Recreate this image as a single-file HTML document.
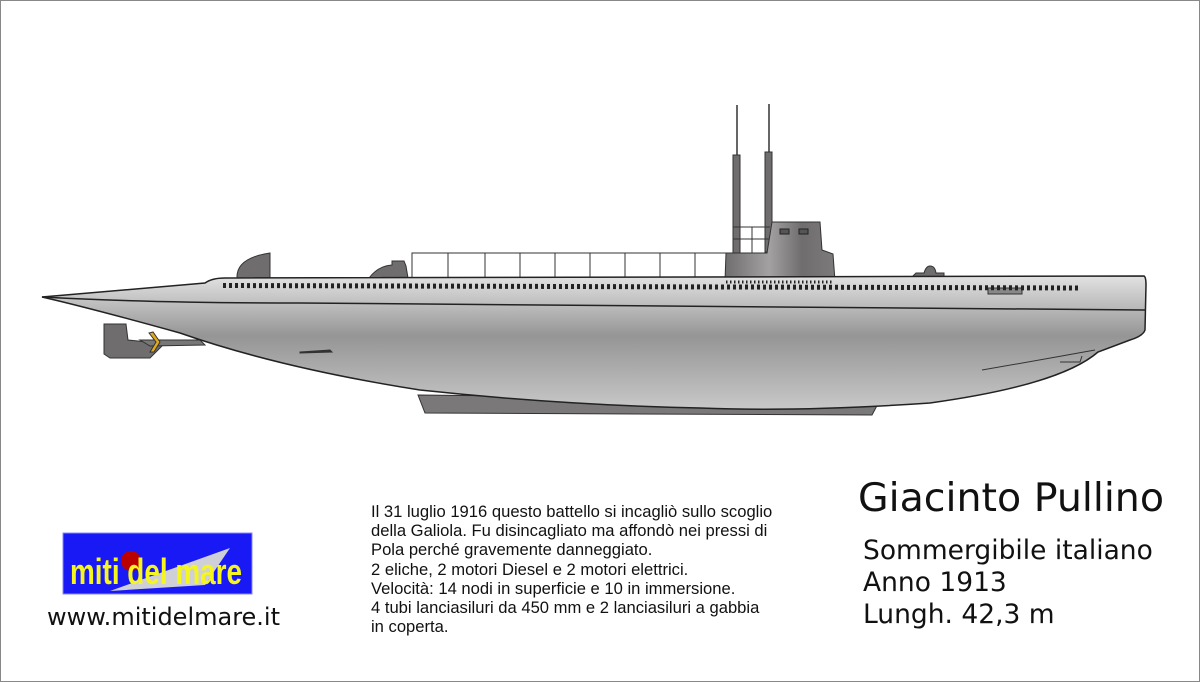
<!DOCTYPE html>
<html><head><meta charset="utf-8"><style>
body{margin:0;background:#fff;}
#c{position:relative;width:1198px;height:680px;border:1px solid #888;overflow:hidden;font-family:"DejaVu Sans","Liberation Sans",sans-serif;}
.t{position:absolute;white-space:nowrap;color:#111;}
</style></head><body><div id="c">
<svg width="1200" height="682" style="position:absolute;left:-1px;top:-1px">
<defs>
<linearGradient id="g" x1="0" y1="0" x2="0" y2="1">
<stop offset="0" stop-color="#e2e2e2"/><stop offset="0.45" stop-color="#959595"/><stop offset="1" stop-color="#c8c8c8"/></linearGradient>
<linearGradient id="ct" x1="0" y1="0" x2="1" y2="0">
<stop offset="0" stop-color="#6f6d6e"/><stop offset="0.4" stop-color="#a3a1a2"/><stop offset="0.7" stop-color="#6f6d6e"/><stop offset="1" stop-color="#7c7a7b"/></linearGradient>
</defs>
<path d="M418,395 L880,400 L872,415 L425,413 Z" fill="#7a7879" stroke="#333"/>
<path d="M104,324 L126,324 L128,340 L148,342 L160,340 L162,346 L150,358 L110,358 L104,354 Z" fill="#6f6d6e" stroke="#333"/>
<path d="M140,340 L200,340 L205,345 L150,346 Z" fill="#777" stroke="#333"/>
<path d="M149,333 L156,342 L150,352 L154,352 L160,342 L153,332 Z" fill="#e0a820" stroke="#333"/>
<path d="M237,278 Q236,258 270,253 L270,278 Z" fill="#6f6d6e" stroke="#333"/>
<path d="M369,278 Q378,266 392,265 L392,261 L404,261 L406,266 L408,278 Z" fill="#6f6d6e" stroke="#333"/>
<path d="M912,277 L916,273 L924,273 Q926,266 930,266 Q935,266 936,273 L944,273 L944,277 Z" fill="#6f6d6e" stroke="#333"/>
<rect x="412" y="253" width="314" height="25" fill="#fff" stroke="#333"/>
<g stroke="#333"><line x1="448" y1="253" x2="448" y2="278"/><line x1="485" y1="253" x2="485" y2="278"/><line x1="520" y1="253" x2="520" y2="278"/><line x1="555" y1="253" x2="555" y2="278"/><line x1="590" y1="253" x2="590" y2="278"/><line x1="625" y1="253" x2="625" y2="278"/><line x1="660" y1="253" x2="660" y2="278"/><line x1="695" y1="253" x2="695" y2="278"/></g>
<line x1="737" y1="105" x2="737" y2="160" stroke="#333" stroke-width="1.5"/>
<line x1="769" y1="104" x2="769" y2="155" stroke="#333" stroke-width="1.5"/>
<rect x="733" y="155" width="7" height="100" fill="#6f6d6e" stroke="#333"/>
<rect x="765" y="152" width="7" height="100" fill="#6f6d6e" stroke="#333"/>
<path d="M733,227 H770 M733,239 H770 M752,227 V253" stroke="#333" fill="none"/>
<path d="M725,281 L726,253 L767,253 L772,222 L820,222 L822,250 L833,254 L835,281 Z" fill="url(#ct)" stroke="#333"/>
<rect x="780" y="229" width="9" height="5" fill="#555" stroke="#222"/>
<rect x="799" y="229" width="9" height="5" fill="#555" stroke="#222"/>
<path d="M42,297 L205,283 Q212,278 225,278 L1144,276 Q1146,277 1146,285 L1145,330 Q1143,336 1130,340 L1098,352 Q1060,385 930,403 Q800,412 700,408 Q560,405 420,390 Q280,368 180,333 Q90,308 42,297 Z" fill="url(#g)" stroke="#222" stroke-width="1.5"/>
<path d="M42,297 Q150,303 300,303 L1145,310" fill="none" stroke="#222" stroke-width="1.5"/>
<path d="M300,352 L330,350 L332,352 L300,353 Z" fill="#333" stroke="#333"/>
<path d="M982,370 Q1040,360 1095,350 M1060,362 L1080,362 L1082,356" fill="none" stroke="#333"/>
<rect x="988" y="288" width="34" height="6" fill="#888" stroke="#333"/>
<line x1="223" y1="285.5" x2="1078" y2="288" stroke="#222" stroke-width="5" stroke-dasharray="3,3"/>
<line x1="726" y1="282" x2="833" y2="282" stroke="#222" stroke-width="3" stroke-dasharray="1.5,2.5"/>
<rect x="63" y="533" width="189" height="61" fill="#1919f5" stroke="#88f"/>
<path d="M110,591 L230,548 L205,585 Z" fill="#cfcfd8"/>
<circle cx="131" cy="561" r="10" fill="#b00"/>
<text x="70" y="584" font-family="Liberation Sans Narrow,Liberation Sans,sans-serif" font-weight="bold" font-size="36" fill="#f5f520" textLength="172" lengthAdjust="spacingAndGlyphs">miti del mare</text>
</svg>
<div class="t" style="left:46px;top:602px;font-size:24px;">www.mitidelmare.it</div>
<div class="t" style="left:857px;top:474px;font-size:39.5px;">Giacinto Pullino</div>
<div class="t" style="left:862px;top:534px;font-size:26.5px;line-height:32px;">Sommergibile italiano<br>Anno 1913<br>Lungh. 42,3 m</div>
<div class="t" style="left:370px;top:501px;font-size:16.6px;line-height:19.2px;font-family:'Liberation Sans',sans-serif;">Il 31 luglio 1916 questo battello si incagliò sullo scoglio<br>della Galiola. Fu disincagliato ma affondò nei pressi di<br>Pola perché gravemente danneggiato.<br>2 eliche, 2 motori Diesel e 2 motori elettrici.<br>Velocità: 14 nodi in superficie e 10 in immersione.<br>4 tubi lanciasiluri da 450 mm e 2 lanciasiluri a gabbia<br>in coperta.</div>
</div></body></html>
